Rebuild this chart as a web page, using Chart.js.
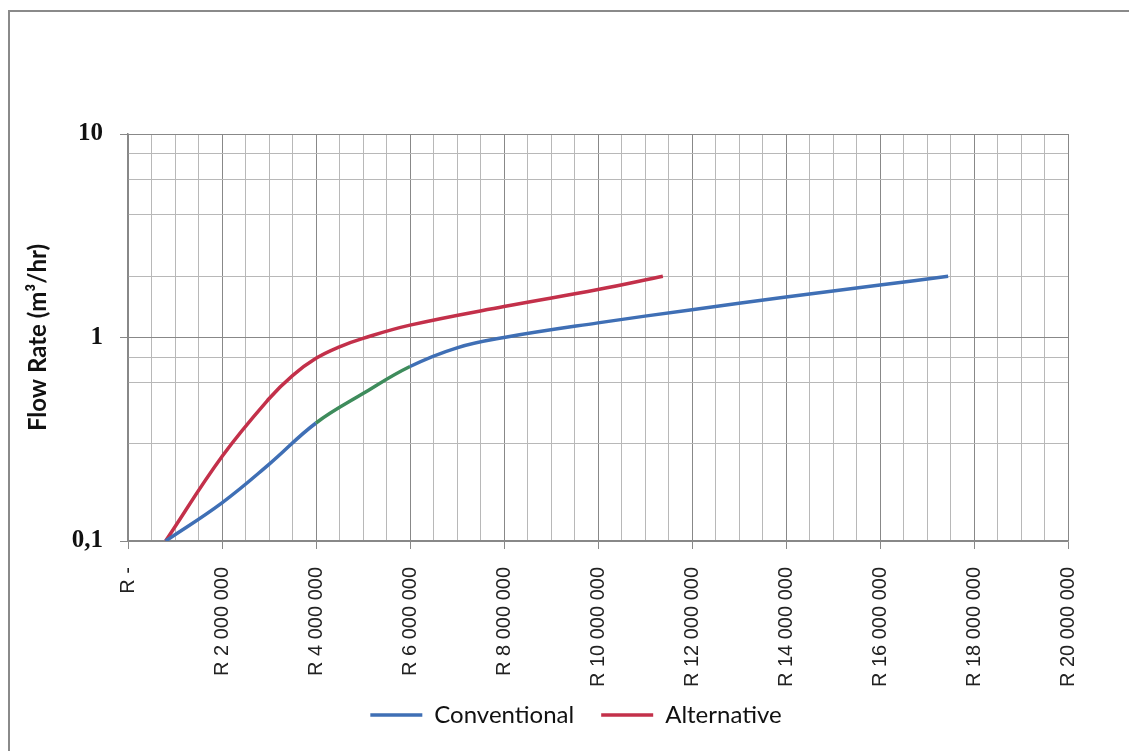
<!DOCTYPE html>
<html lang="en">
<head>
    <meta charset="UTF-8">
    <title>Flow Rate vs Cost</title>
    <script src="https://cdn.jsdelivr.net/npm/chart.js"></script>
    <style>
        body { margin: 0; overflow: hidden; background: #fff; }
        #wrap { position: relative; width: 1129px; height: 751px; }
        #frame { position: absolute; left: 8px; top: 10px; width: 1200px; height: 800px;
                 border: 2px solid #8a8a8a; pointer-events: none; }
    </style>
</head>
<body>
    <div id="wrap">
        <canvas id="flowChart" width="1129" height="751"></canvas>
        <div id="frame"></div>
    </div>

    <script>
        // cost (R) and flow rate (m3/hr)
        const convCost = [800000, 2000000, 3000000, 4000000, 5000000, 6000000, 7000000, 8000000, 10000000, 12000000, 14000000, 16000000, 17450000];
        const convFlow = [0.1, 0.154, 0.238, 0.38, 0.53, 0.72, 0.89, 1.0, 1.18, 1.37, 1.58, 1.81, 2.0];
        const altCost = [800000, 2000000, 3000000, 3500000, 4000000, 4500000, 5000000, 6000000, 8000000, 10000000, 11380000];
        const altFlow = [0.1, 0.26, 0.5, 0.65, 0.79, 0.90, 0.99, 1.15, 1.42, 1.72, 2.0];

        const yLabels = { '10': '10', '1': '1', '0.1': '0,1' };

        const blue = '#3f6fb5';
        const green = '#3e8c5c';
        const red = '#c3304a';

        function toPoints(xs, ys) {
            return xs.map((x, i) => ({ x: x, y: ys[i] }));
        }

        function costLabel(v) {
            if (v === 0) return 'R -';
            if (v % 2000000 !== 0) return '';
            return 'R ' + String(v).replace(/\B(?=(\d{3})+(?!\d))/g, ' ');
        }

        function isDecade(v) {
            const l = Math.log10(v);
            return Math.abs(l - Math.round(l)) < 1e-6;
        }

        // put the legend where the original has it
        const legendPlace = {
            id: 'legendPlace',
            afterLayout(chart) {
                const lg = chart.legend;
                const dx = 576 - (lg.left + lg.right) / 2;
                const dy = 676 - lg.top;
                lg.left += dx; lg.right += dx;
                lg.top += dy; lg.bottom += dy;
            }
        };

        new Chart(document.getElementById('flowChart'), {
            type: 'line',
            data: {
                datasets: [
                    {
                        label: 'Conventional',
                        data: toPoints(convCost, convFlow),
                        borderColor: blue,
                        backgroundColor: blue,
                        borderWidth: 3.5,
                        pointRadius: 0,
                        tension: 0.4,
                        segment: {
                            borderColor: ctx => (ctx.p0.parsed.x >= 4000000 && ctx.p1.parsed.x <= 6000000) ? green : undefined
                        }
                    },
                    {
                        label: 'Alternative',
                        data: toPoints(altCost, altFlow),
                        borderColor: red,
                        backgroundColor: red,
                        borderWidth: 3.5,
                        pointRadius: 0,
                        tension: 0.4
                    }
                ]
            },
            options: {
                responsive: false,
                animation: false,
                layout: { padding: { left: 20, right: 61, top: 134, bottom: 0 } },
                plugins: {
                    tooltip: { enabled: false },
                    legend: {
                        position: 'bottom',
                        labels: {
                            usePointStyle: true,
                            pointStyle: 'line',
                            pointStyleWidth: 52,
                            padding: 27,
                            color: '#111',
                            font: { family: 'Lato', size: 24 }
                        }
                    }
                },
                scales: {
                    x: {
                        type: 'linear',
                        min: 0,
                        max: 20000000,
                        afterFit: s => { s.height = 149; },
                        ticks: {
                            stepSize: 500000,
                            autoSkip: false,
                            minRotation: 90,
                            maxRotation: 90,
                            padding: 18,
                            color: '#222',
                            font: { family: 'Liberation Sans', size: 20 },
                            callback: v => costLabel(v)
                        },
                        grid: {
                            color: ctx => (ctx.tick && ctx.tick.value % 2000000 === 0) ? '#888888' : '#b8b8b8',
                            tickColor: ctx => (ctx.tick && ctx.tick.value % 2000000 === 0) ? '#888888' : 'rgba(0,0,0,0)',
                            tickLength: 8
                        },
                        border: { color: '#888888', width: 1.5 }
                    },
                    y: {
                        type: 'logarithmic',
                        min: 0.1,
                        max: 10,
                        afterFit: s => { s.width = 108; },
                        title: {
                            display: true,
                            text: 'Flow Rate (m³/hr)',
                            color: '#111',
                            font: { family: 'Lato', size: 24, weight: 'bold' },
                            padding: { top: 4, bottom: 0 }
                        },
                        ticks: {
                            padding: 17,
                            color: '#111',
                            font: { family: 'Liberation Serif', size: 25, weight: 'bold' },
                            callback: v => yLabels[String(v)] || ''
                        },
                        grid: {
                            color: ctx => (ctx.tick && isDecade(ctx.tick.value)) ? '#888888' : '#b8b8b8',
                            tickColor: ctx => (ctx.tick && isDecade(ctx.tick.value)) ? '#888888' : 'rgba(0,0,0,0)',
                            tickLength: 8
                        },
                        border: { color: '#888888', width: 1.5 }
                    }
                }
            },
            plugins: [legendPlace]
        });
    </script>
</body>
</html>
